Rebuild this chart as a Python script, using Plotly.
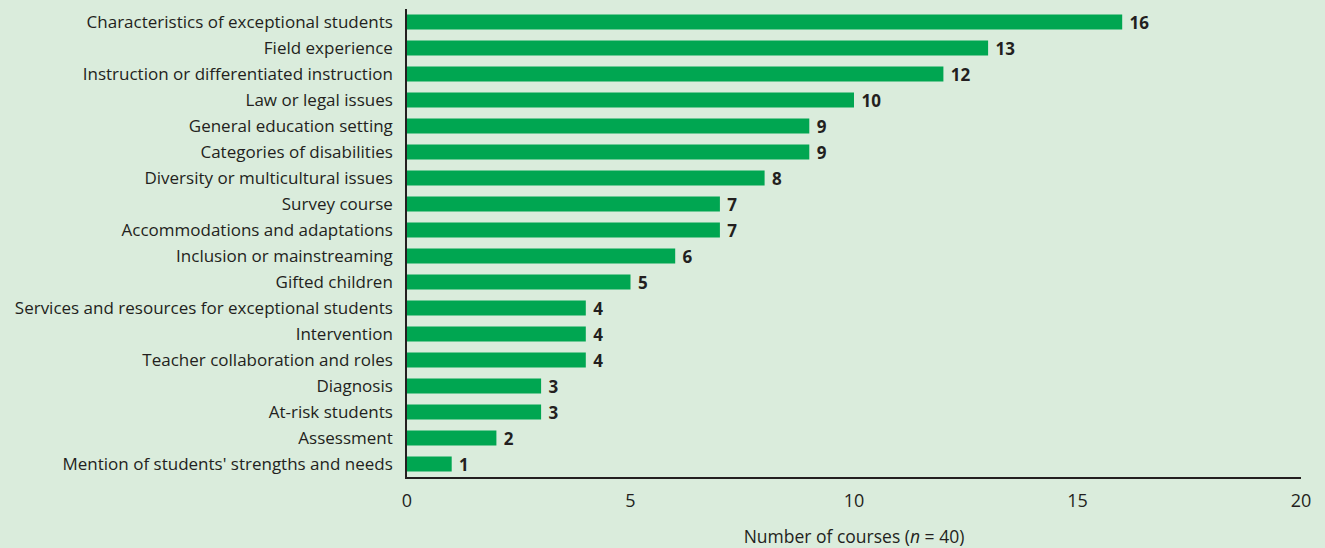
import plotly.graph_objects as go

categories = [
    "Characteristics of exceptional students",
    "Field experience",
    "Instruction or differentiated instruction",
    "Law or legal issues",
    "General education setting",
    "Categories of disabilities",
    "Diversity or multicultural issues",
    "Survey course",
    "Accommodations and adaptations",
    "Inclusion or mainstreaming",
    "Gifted children",
    "Services and resources for exceptional students",
    "Intervention",
    "Teacher collaboration and roles",
    "Diagnosis",
    "At-risk students",
    "Assessment",
    "Mention of students' strengths and needs",
]
values = [16, 13, 12, 10, 9, 9, 8, 7, 7, 6, 5, 4, 4, 4, 3, 3, 2, 1]
x_ticks = [0, 5, 10, 15, 20]

BG = "#daecdc"
BAR = "#00a651"
TXT = "#231f20"
FONT = "Open Sans"

fig = go.Figure(go.Bar(
    x=values,
    y=categories,
    orientation="h",
    marker=dict(color=BAR, line=dict(width=0)),
    width=0.58,
    text=["\u00a0" + str(v) for v in values],
    textposition="outside",
    constraintext="none",
    cliponaxis=False,
    textfont=dict(family=FONT, size=17, color=TXT, weight="bold"),
    hoverinfo="x+y",
))

fig.update_layout(
    width=1325, height=548,
    paper_bgcolor=BG, plot_bgcolor=BG,
    margin=dict(l=407, r=24, t=9, b=71),
    showlegend=False,
    font=dict(family=FONT, size=17, color=TXT),
    bargap=0.42,
)
fig.update_yaxes(
    autorange="reversed",
    automargin=False,
    showline=True, linecolor=TXT, linewidth=1.5,
    ticks="", ticklabelstandoff=9,
    tickfont=dict(family=FONT, size=17, color=TXT),
    showgrid=False, zeroline=False,
)
fig.update_xaxes(
    range=[0, 20],
    automargin=False,
    tickvals=x_ticks,
    ticktext=[str(t) for t in x_ticks],
    showline=True, linecolor=TXT, linewidth=1.5,
    ticks="", ticklabelstandoff=7,
    tickfont=dict(family=FONT, size=18, color=TXT),
    showgrid=False, zeroline=False,
    title=dict(text="Number of courses (<i>n</i> = 40)", standoff=21,
               font=dict(family=FONT, size=17.5, color=TXT)),
)

fig.write_html(
    "out.html",
    config={"displayModeBar": False},
    post_script="document.body.style.margin='0';document.body.style.background='%s';" % BG,
)
